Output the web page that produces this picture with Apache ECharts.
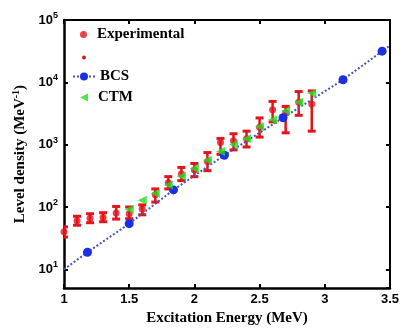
<!DOCTYPE html>
<html>
<head>
<meta charset="utf-8">
<script src="https://cdn.jsdelivr.net/npm/echarts@6/dist/echarts.min.js"></script>
<style>
  html, body { margin: 0; padding: 0; background: #fff; }
  #chart { width: 402px; height: 331px; }
</style>
</head>
<body>
<div id="chart"></div>
<script>
// experimental level density with error bars
var expX = [1.0, 1.1, 1.2, 1.3, 1.4, 1.5, 1.6, 1.7, 1.8, 1.9, 2.0, 2.1, 2.2, 2.3, 2.4, 2.5, 2.6, 2.7, 2.8, 2.9];
var expY = [40, 60, 66, 68, 80, 78, 93, 157, 245, 338, 391, 537, 1080, 1160, 1245, 1910, 3630, 3220, 4770, 4480];
var expLow = [33, 51, 56, 58, 64, 65, 75, 120, 195, 265, 307, 383, 700, 824, 918, 1324, 2317, 1549, 2960, 1648];
var expHigh = [48, 71, 78, 81, 102, 100, 108, 195, 307, 431, 499, 747, 1260, 1496, 1648, 2685, 4943, 4111, 7110, 7280];

// CTM
var ctmX = [1.5, 1.6, 1.7, 1.8, 1.9, 2.0, 2.1, 2.2, 2.3, 2.4, 2.5, 2.6, 2.7, 2.8, 2.9];
var ctmY = [91, 128, 165, 226, 310, 415, 560, 775, 1010, 1250, 1930, 2515, 3500, 4800, 6680];

// BCS points, and the ends of its curve
var bcsX = [1.18, 1.5, 1.84, 2.23, 2.68, 3.14, 3.44];
var bcsY = [18.8, 54, 188, 676, 2700, 11000, 31600];
var bcsEndX = [1.0, 3.5];
var bcsEndY = [10, 39000];

var chart = echarts.init(document.getElementById('chart'));

var red = '#e3141b';
var sansBold = { fontFamily: 'Liberation Sans', fontWeight: 'bold', color: '#000' };
var serifBold = { fontFamily: 'Liberation Serif', fontWeight: 'bold', color: '#000', fontSize: 15 };
var serifPad = Object.assign({ padding: [0, 0, 0, 5] }, serifBold);

function powLabel(v) {
  var e = Math.round(Math.log10(v));
  return '{b|10}{s|' + e + '}';
}

function errBar(params, api) {
  var x = api.value(0);
  var lo = api.coord([x, api.value(1)]);
  var hi = api.coord([x, api.value(2)]);
  var w = 4;
  var cap = { stroke: red, lineWidth: 3 };
  return {
    type: 'group',
    children: [
      { type: 'line', shape: { x1: lo[0], y1: lo[1], x2: hi[0], y2: hi[1] }, style: { stroke: red, lineWidth: 2.5 } },
      { type: 'line', shape: { x1: lo[0] - w, y1: lo[1], x2: lo[0] + w, y2: lo[1] }, style: cap },
      { type: 'line', shape: { x1: hi[0] - w, y1: hi[1], x2: hi[0] + w, y2: hi[1] }, style: cap }
    ]
  };
}

var bcsData = [{ value: [bcsEndX[0], bcsEndY[0]], symbol: 'none' }];
bcsX.forEach(function (x, i) { bcsData.push([x, bcsY[i]]); });
bcsData.push({ value: [bcsEndX[1], bcsEndY[1]], symbol: 'none' });

// left-pointing triangle
var leftTri = 'path://M0,5L10,0L10,10Z';

var option = {
  animation: false,
  backgroundColor: '#fff',
  grid: { left: 64, right: 10, top: 20, bottom: 39 },
  legend: [
    {
      left: 80, top: 27, padding: 0,
      itemWidth: 7, itemHeight: 7,
      textStyle: serifPad,
      data: [{ name: 'Experimental', icon: 'circle' }]
    },
    {
      left: 82, top: 50, padding: 0,
      itemWidth: 4, itemHeight: 4,
      textStyle: serifBold,
      data: [{ name: ' ', icon: 'circle' }]
    },
    {
      left: 72, top: 69, padding: 0,
      itemWidth: 22, itemHeight: 10,
      textStyle: serifBold,
      data: ['BCS']
    },
    {
      left: 80, top: 90, padding: 0,
      itemWidth: 8, itemHeight: 8,
      textStyle: serifPad,
      data: [{ name: 'CTM', icon: leftTri }]
    }
  ],
  xAxis: [
    {
      type: 'value', min: 1, max: 3.5, interval: 0.5,
      name: 'Excitation Energy (MeV)', nameLocation: 'middle', nameGap: 22,
      nameTextStyle: serifBold,
      axisLine: { lineStyle: { color: '#000', width: 2.5 } },
      axisTick: { inside: true, length: 4, lineStyle: { color: '#000', width: 2 } },
      axisLabel: Object.assign({ fontSize: 13, margin: 5 }, sansBold),
      splitLine: { show: false }
    },
    {
      type: 'value', min: 1, max: 3.5, interval: 0.5, position: 'top',
      axisLine: { lineStyle: { color: '#000', width: 2 } },
      axisTick: { inside: true, length: 4, lineStyle: { color: '#000', width: 2 } },
      axisLabel: { show: false },
      splitLine: { show: false }
    }
  ],
  yAxis: [
    {
      type: 'log', min: 5, max: 100000, logBase: 10,
      name: 'Level density (MeV{s|-1})', nameLocation: 'middle', nameGap: 27,
      nameTextStyle: Object.assign({
        rich: { s: { fontFamily: 'Liberation Serif', fontWeight: 'bold', fontSize: 10, padding: [0, 0, 8, 0] } }
      }, serifBold),
      axisLine: { lineStyle: { color: '#000', width: 2.5 } },
      axisTick: { inside: true, length: 4, lineStyle: { color: '#000', width: 2 } },
      axisLabel: {
        showMinLabel: false, margin: 6,
        formatter: powLabel,
        rich: {
          b: Object.assign({ fontSize: 13 }, sansBold),
          s: Object.assign({ fontSize: 9, padding: [0, 0, 9, 0] }, sansBold)
        }
      },
      minorTick: { show: false },
      splitLine: { show: false }
    },
    {
      type: 'log', min: 5, max: 100000, logBase: 10, position: 'right',
      axisLine: { lineStyle: { color: '#000', width: 2 } },
      axisTick: { inside: true, length: 4, lineStyle: { color: '#000', width: 2 } },
      axisLabel: { show: false },
      splitLine: { show: false }
    }
  ],
  series: [
    {
      name: ' ', type: 'custom', renderItem: errBar, clip: true,
      itemStyle: { color: red },
      encode: { x: 0, y: [1, 2] },
      data: expX.map(function (x, i) { return [x, expLow[i], expHigh[i]]; }),
      z: 2
    },
    {
      name: 'Experimental', type: 'scatter', clip: true,
      symbol: 'circle', symbolSize: 7,
      itemStyle: { color: red },
      data: expX.map(function (x, i) { return [x, expY[i]]; }),
      z: 3
    },
    {
      name: 'BCS', type: 'line', clip: true,
      symbol: 'circle', symbolSize: 9, showAllSymbol: true,
      itemStyle: { color: '#1a2fe6' },
      lineStyle: { color: '#4656b8', width: 2, type: [2, 2] },
      data: bcsData,
      z: 4
    },
    {
      name: 'CTM', type: 'scatter', clip: true,
      symbol: leftTri, symbolSize: 9,
      itemStyle: { color: '#22dd22' },
      data: ctmX.map(function (x, i) { return [x, ctmY[i]]; }),
      z: 5
    }
  ]
};

chart.setOption(option);
</script>
</body>
</html>
